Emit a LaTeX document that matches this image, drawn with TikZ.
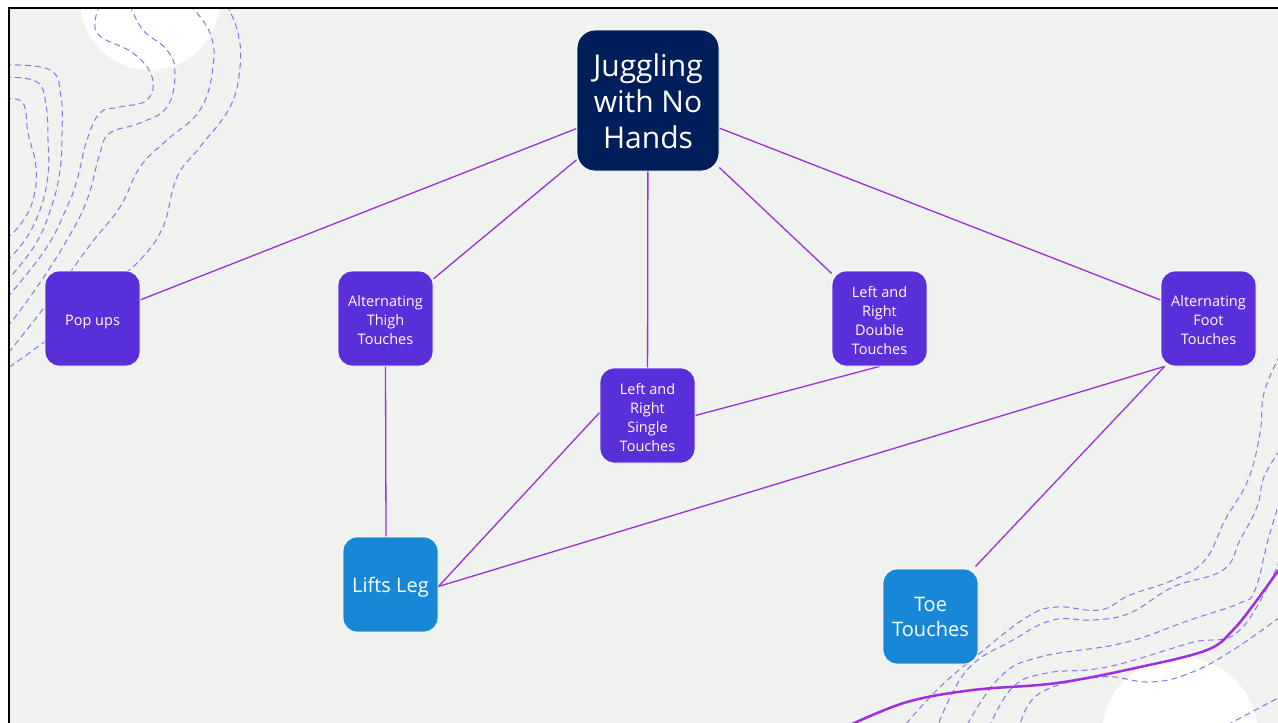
\documentclass[tikz,border=0pt]{standalone}
\usepackage{fontspec}
\setmainfont{Open Sans}
\definecolor{bgc}{HTML}{F0F2F0}
\definecolor{navy}{HTML}{001E5A}
\definecolor{purp}{HTML}{5A2FD9}
\definecolor{bluec}{HTML}{1888D6}
\definecolor{edgec}{HTML}{9B30D8}
\definecolor{contour}{HTML}{8C72E6}
\definecolor{thickc}{HTML}{A22CE0}
\newcommand\cell[2][3pt]{\raisebox{-#1}[\height][\depth]{\begin{tabular}{@{}c@{}}#2\end{tabular}}}
\pgfdeclarelayer{deco}
\pgfdeclarelayer{edges}
\pgfsetlayers{deco,edges,main}
\begin{document}
\begin{tikzpicture}[x=1pt,y=-1pt,
  box/.style={draw=white, line width=0.8pt, rounded corners=14pt, minimum width=95pt, minimum height=95pt, inner sep=0pt, text=white},
  small/.style={box, fill=purp, font=\fontsize{14.5}{19}\selectfont},
  big/.style={box, fill=bluec, font=\fontsize{20}{25}\selectfont},
  root/.style={box, fill=navy, minimum width=142pt, minimum height=141pt, rounded corners=18pt, font=\fontsize{30}{36}\selectfont},
  edge/.style={draw=edgec, line width=1.3pt},
  contourline/.style={draw=contour, line width=1pt, dash pattern=on 6pt off 4pt},
]
\useasboundingbox (0,0) rectangle (1278,723);

% nodes
\node[root]  (jug)    at (648,100.5) {\cell[5pt]{Juggling\\with No\\Hands}};
\node[small] (pop)    at (92.5,318.5) {\cell{Pop ups}};
\node[small] (thigh)  at (385.5,318.5) {\cell{Alternating\\Thigh\\Touches}};
\node[small] (double) at (879.5,318.5) {\cell[3.5pt]{Left and\\Right\\Double\\Touches}};
\node[small] (foot)   at (1208.5,318.5) {\cell{Alternating\\Foot\\Touches}};
\node[small] (single) at (647.5,415.5) {\cell[3.5pt]{Left and\\Right\\Single\\Touches}};
\node[big]   (lifts)  at (390.5,584.5) {\cell{Lifts Leg}};
\node[big]   (toe)    at (930.5,616.5) {\cell[2.5pt]{Toe\\Touches}};

% edges
\begin{pgfonlayer}{edges}
\draw[edge] (jug) -- (pop);
\draw[edge] (jug) -- (thigh);
\draw[edge] (jug) -- (single);
\draw[edge] (jug) -- (double);
\draw[edge] (jug) -- (foot);
\draw[edge] (thigh.south) -- ([xshift=-4.5pt]lifts.north);
\draw[edge] ([yshift=3pt]single.west) -- ([yshift=-2pt]lifts.east);
\draw[edge] (double.south) -- (single.east);
\draw[edge] ([xshift=4pt]foot.south west) -- ([yshift=-2pt]lifts.east);
\draw[edge] ([xshift=4pt]foot.south west) -- ([xshift=-3pt,yshift=2pt]toe.north east);
\end{pgfonlayer}

% background and decorations
\begin{pgfonlayer}{deco}
\fill[white] (0,0) rectangle (1278,723);
\fill[bgc] (9,8) rectangle (1290,735);
\begin{scope}
\clip (9,8) rectangle (1290,735);
\fill[white] (150,0) circle[radius=70];
\fill[white] (1180,735) circle[radius=78];
\draw[contourline] plot[smooth, tension=0.7] coordinates {(5,99) (23,103) (28,133) (36,167) (33,200) (20,225) (5,240)};
\draw[contourline] plot[smooth, tension=0.7] coordinates {(5,77) (37,82) (46,105) (48,140) (48,175) (40,210) (25,240) (5,263)};
\draw[contourline] plot[smooth, tension=0.7] coordinates {(5,65) (50,70) (61,97) (62,133) (60,170) (52,205) (35,245) (5,283)};
\draw[contourline] plot[smooth, tension=0.7] coordinates {(100,5) (97,33) (133,53) (152,77) (147,100) (120,107) (100,113) (87,140) (77,180) (67,207) (45,250) (5,300)};
\draw[contourline] plot[smooth, tension=0.7] coordinates {(130,5) (143,30) (167,50) (175,73) (167,107) (140,123) (110,133) (100,153) (87,200) (67,240) (35,290) (5,330)};
\draw[contourline] plot[smooth, tension=0.7] coordinates {(190,5) (210,33) (213,67) (200,110) (167,140) (140,167) (120,207) (90,245) (50,300) (5,357)};
\draw[contourline] plot[smooth, tension=0.7] coordinates {(227,5) (238,33) (240,67) (230,107) (200,147) (177,177) (163,227) (140,260) (110,285) (60,330) (5,370)};
% bottom right
\draw[contourline] plot[smooth, tension=0.7] coordinates {(1280,355) (1264,393) (1260,433) (1248,480) (1225,520) (1205,560) (1173,580) (1130,595) (1100,610) (1057,607) (1027,617) (980,653) (940,687) (905,725)};
\draw[contourline] plot[smooth, tension=0.7] coordinates {(1280,450) (1264,477) (1257,507) (1240,540) (1223,570) (1173,587) (1130,613) (1093,620) (1053,620) (1013,640) (967,670) (938,725)};
\draw[contourline] plot[smooth, tension=0.7] coordinates {(1280,500) (1268,540) (1255,590) (1240,603) (1190,620) (1123,643) (1040,657) (1000,677) (967,725)};
\draw[contourline] plot[smooth, tension=0.7] coordinates {(1280,560) (1240,630) (1190,643) (1107,667) (1047,673) (1013,687) (990,725)};
\draw[contourline] plot[smooth, tension=0.7] coordinates {(1280,617) (1233,650) (1190,673) (1150,682) (1100,677) (1040,693) (1020,725)};
\draw[contourline] (1227,725) -- (1280,697);
\draw[thickc, line width=2.5pt] plot[smooth, tension=0.6] coordinates {(850,725) (907,702) (973,690) (1057,683) (1140,667) (1207,650) (1233,630) (1257,600) (1280,568)};
\end{scope}
\draw[black, line width=2.5pt] (1290,8) -- (9,8) -- (9,735);
\end{pgfonlayer}
\end{tikzpicture}
\end{document}
